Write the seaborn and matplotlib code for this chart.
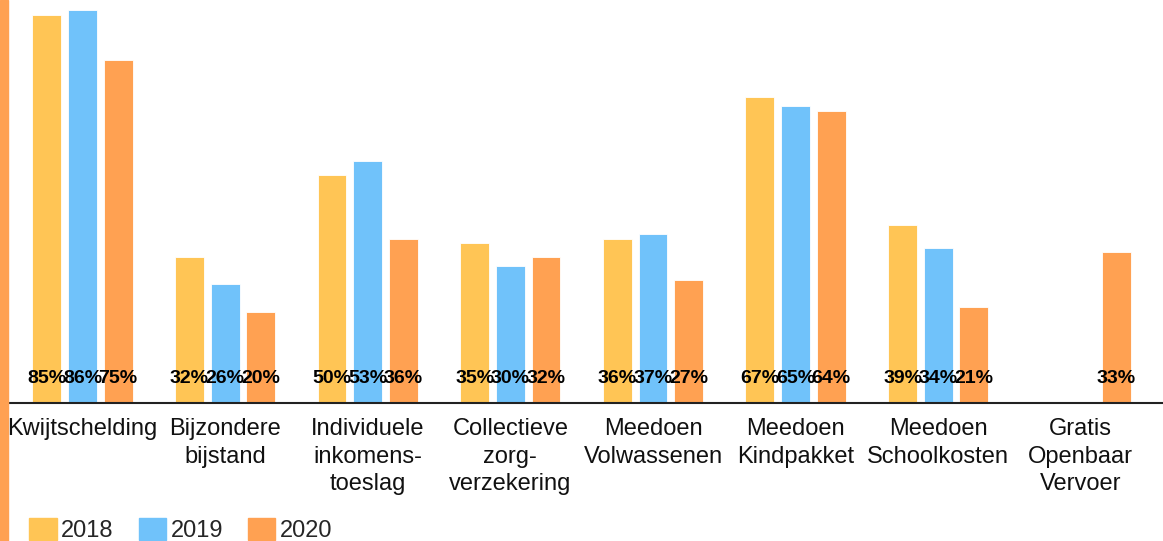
import numpy as np
import pandas as pd
import matplotlib
matplotlib.use('Agg')
import matplotlib.pyplot as plt
import seaborn as sns
from matplotlib.patches import Patch, Rectangle

# data
categories = ['Kwijtschelding', 'Bijzondere\nbijstand', 'Individuele\ninkomens-\ntoeslag',
              'Collectieve\nzorg-\nverzekering', 'Meedoen\nVolwassenen', 'Meedoen\nKindpakket',
              'Meedoen\nSchoolkosten', 'Gratis\nOpenbaar\nVervoer']
jaren = ['2018', '2019', '2020']
waarden_2018 = [85, 32, 50, 35, 36, 67, 39, np.nan]
waarden_2019 = [86, 26, 53, 30, 37, 65, 34, np.nan]
waarden_2020 = [75, 20, 36, 32, 27, 64, 21, 33]
kleuren = ['#FFC555', '#70C2FA', '#FFA152']

df = pd.DataFrame({
    'categorie': categories * 3,
    'jaar': [j for j in jaren for _ in categories],
    'waarde': waarden_2018 + waarden_2019 + waarden_2020,
})

sns.set_style('white')
plt.rcParams['font.family'] = ['Liberation Sans', 'DejaVu Sans']

fig = plt.figure(figsize=(11.63, 5.41), dpi=100)
ax = fig.add_axes([8 / 1163, 1 - 403 / 541, 1 - 8 / 1163, 403 / 541])

sns.barplot(data=df, x='categorie', y='waarde', hue='jaar', palette=kleuren,
            width=0.75, gap=0.19, saturation=1, ax=ax, legend=False,
            edgecolor='white', linewidth=0.6)

# percentages onderin de balken
for cont in ax.containers:
    for patch, v in zip(cont.patches, cont.datavalues):
        if np.isnan(v):
            continue
        ax.text(patch.get_x() + patch.get_width() / 2, 5.4, f'{v:.0f}%',
                ha='center', va='center', fontsize=14, fontweight='bold', color='black')

ax.set_ylim(0, 88.2)
ax.set_xlim(-0.522, 7.576)
ax.set_xlabel('')
ax.set_ylabel('')
ax.set_yticks([])
ax.tick_params(axis='x', length=0, pad=11, labelsize=17, colors='#111111')
for lbl in ax.get_xticklabels():
    lbl.set_linespacing(1.32)
for s in ['top', 'right', 'left']:
    ax.spines[s].set_visible(False)
ax.spines['bottom'].set_color('#222222')
ax.spines['bottom'].set_linewidth(1.5)

# oranje streep links
fig.patches.append(Rectangle((0, 0), 8 / 1163, 1, transform=fig.transFigure,
                             color='#FFA152', zorder=0))

handles = [Patch(color=c, label=j) for c, j in zip(kleuren, jaren)]
fig.legend(handles=handles, loc='lower left', bbox_to_anchor=(20 / 1163, -0.0195),
           ncol=3, frameon=False, fontsize=17, handlelength=1.15, handleheight=1.0,
           handletextpad=0.2, columnspacing=1.05, borderaxespad=0)

fig.savefig('out.png', dpi=100)
